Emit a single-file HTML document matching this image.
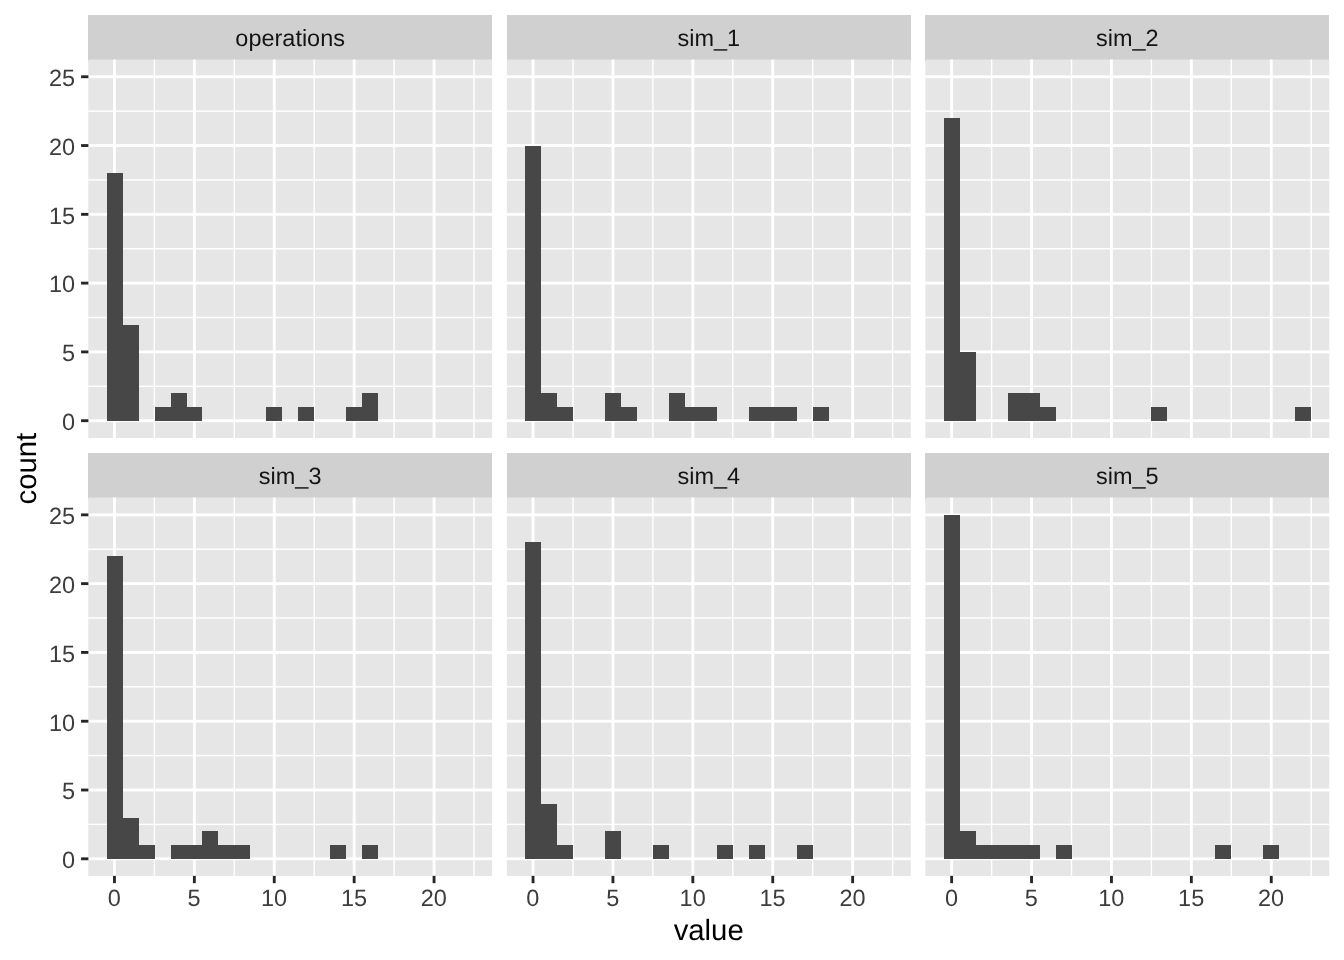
<!DOCTYPE html>
<html><head><meta charset="utf-8"><title>plot</title>
<style>
html,body{margin:0;padding:0;background:#fff;}
body{width:1344px;height:960px;overflow:hidden;}
svg{display:block;will-change:transform;}
text{font-family:"Liberation Sans",sans-serif;text-rendering:geometricPrecision;}
</style></head><body>
<svg width="1344" height="960" viewBox="0 0 1344 960">
<defs><filter id="usm" x="0" y="0" width="1344" height="960" filterUnits="userSpaceOnUse" color-interpolation-filters="sRGB"><feGaussianBlur in="SourceGraphic" stdDeviation="0.7" result="b"/><feComposite in="SourceGraphic" in2="b" operator="arithmetic" k1="0" k2="1.6" k3="-0.6" k4="0"/></filter></defs>
<g filter="url(#usm)">
<rect x="0" y="0" width="1344" height="960" fill="#FFFFFF"/>
<!-- panel operations -->
<rect x="88" y="15" width="404" height="46.55" fill="#D0D0D0"/>
<rect x="88.3" y="59.55" width="403.8" height="378.42" fill="#E6E6E6"/>
<g fill="#fff">
<rect x="153.69" y="59.55" width="1.42" height="378.42" fill="#fff"/>
<rect x="88.3" y="385.6" width="403.8" height="1.42" fill="#fff"/>
<rect x="233.59" y="59.55" width="1.42" height="378.42" fill="#fff"/>
<rect x="88.3" y="316.81" width="403.8" height="1.42" fill="#fff"/>
<rect x="313.49" y="59.55" width="1.42" height="378.42" fill="#fff"/>
<rect x="88.3" y="248.01" width="403.8" height="1.42" fill="#fff"/>
<rect x="393.39" y="59.55" width="1.42" height="378.42" fill="#fff"/>
<rect x="88.3" y="179.22" width="403.8" height="1.42" fill="#fff"/>
<rect x="473.29" y="59.55" width="1.42" height="378.42" fill="#fff"/>
<rect x="88.3" y="110.43" width="403.8" height="1.42" fill="#fff"/>
<rect x="113.03" y="59.55" width="2.85" height="378.42" fill="#fff"/>
<rect x="192.93" y="59.55" width="2.85" height="378.42" fill="#fff"/>
<rect x="272.82" y="59.55" width="2.85" height="378.42" fill="#fff"/>
<rect x="352.73" y="59.55" width="2.85" height="378.42" fill="#fff"/>
<rect x="432.62" y="59.55" width="2.85" height="378.42" fill="#fff"/>
<rect x="88.3" y="419.27" width="403.8" height="2.85" fill="#fff"/>
<rect x="88.3" y="350.48" width="403.8" height="2.85" fill="#fff"/>
<rect x="88.3" y="281.69" width="403.8" height="2.85" fill="#fff"/>
<rect x="88.3" y="212.91" width="403.8" height="2.85" fill="#fff"/>
<rect x="88.3" y="144.12" width="403.8" height="2.85" fill="#fff"/>
<rect x="88.3" y="75.33" width="403.8" height="2.85" fill="#fff"/>
</g>
<path d="M107 421V173H123V325H139V421ZM155 421V407H171V393H187V407H202V421ZM266 421V407H282V421ZM298 421V407H314V421ZM346 421V407H362V393H378V421Z" fill="#474747"/>
<text x="290.17" y="45.5" font-size="23.47" fill="#141414" text-anchor="middle">operations</text>
<rect x="81.07" y="419.27" width="7.33" height="2.85" fill="#262626"/>
<text x="75" y="430" font-size="23.47" fill="#3C3C3C" text-anchor="end">0</text>
<rect x="81.07" y="350.48" width="7.33" height="2.85" fill="#262626"/>
<text x="75" y="361.21" font-size="23.47" fill="#3C3C3C" text-anchor="end">5</text>
<rect x="81.07" y="281.69" width="7.33" height="2.85" fill="#262626"/>
<text x="75" y="292.42" font-size="23.47" fill="#3C3C3C" text-anchor="end">10</text>
<rect x="81.07" y="212.91" width="7.33" height="2.85" fill="#262626"/>
<text x="75" y="223.63" font-size="23.47" fill="#3C3C3C" text-anchor="end">15</text>
<rect x="81.07" y="144.12" width="7.33" height="2.85" fill="#262626"/>
<text x="75" y="154.84" font-size="23.47" fill="#3C3C3C" text-anchor="end">20</text>
<rect x="81.07" y="75.33" width="7.33" height="2.85" fill="#262626"/>
<text x="75" y="86.05" font-size="23.47" fill="#3C3C3C" text-anchor="end">25</text>
<!-- panel sim_1 -->
<rect x="507" y="15" width="404" height="46.55" fill="#D0D0D0"/>
<rect x="506.85" y="59.55" width="403.9" height="378.42" fill="#E6E6E6"/>
<g fill="#fff">
<rect x="572.29" y="59.55" width="1.42" height="378.42" fill="#fff"/>
<rect x="506.85" y="385.6" width="403.9" height="1.42" fill="#fff"/>
<rect x="652.19" y="59.55" width="1.42" height="378.42" fill="#fff"/>
<rect x="506.85" y="316.81" width="403.9" height="1.42" fill="#fff"/>
<rect x="732.09" y="59.55" width="1.42" height="378.42" fill="#fff"/>
<rect x="506.85" y="248.01" width="403.9" height="1.42" fill="#fff"/>
<rect x="811.99" y="59.55" width="1.42" height="378.42" fill="#fff"/>
<rect x="506.85" y="179.22" width="403.9" height="1.42" fill="#fff"/>
<rect x="891.89" y="59.55" width="1.42" height="378.42" fill="#fff"/>
<rect x="506.85" y="110.43" width="403.9" height="1.42" fill="#fff"/>
<rect x="531.62" y="59.55" width="2.85" height="378.42" fill="#fff"/>
<rect x="611.52" y="59.55" width="2.85" height="378.42" fill="#fff"/>
<rect x="691.42" y="59.55" width="2.85" height="378.42" fill="#fff"/>
<rect x="771.33" y="59.55" width="2.85" height="378.42" fill="#fff"/>
<rect x="851.23" y="59.55" width="2.85" height="378.42" fill="#fff"/>
<rect x="506.85" y="419.27" width="403.9" height="2.85" fill="#fff"/>
<rect x="506.85" y="350.48" width="403.9" height="2.85" fill="#fff"/>
<rect x="506.85" y="281.69" width="403.9" height="2.85" fill="#fff"/>
<rect x="506.85" y="212.91" width="403.9" height="2.85" fill="#fff"/>
<rect x="506.85" y="144.12" width="403.9" height="2.85" fill="#fff"/>
<rect x="506.85" y="75.33" width="403.9" height="2.85" fill="#fff"/>
</g>
<path d="M525 421V146H541V393H557V407H573V421ZM605 421V393H621V407H637V421ZM669 421V393H685V407H701V407H717V421ZM749 421V407H765V407H781V407H797V421ZM813 421V407H829V421Z" fill="#474747"/>
<text x="708.76" y="45.5" font-size="23.47" fill="#141414" text-anchor="middle">sim_1</text>
<!-- panel sim_2 -->
<rect x="925" y="15" width="404" height="46.55" fill="#D0D0D0"/>
<rect x="925.4" y="59.55" width="403.9" height="378.42" fill="#E6E6E6"/>
<g fill="#fff">
<rect x="990.89" y="59.55" width="1.42" height="378.42" fill="#fff"/>
<rect x="925.4" y="385.6" width="403.9" height="1.42" fill="#fff"/>
<rect x="1070.79" y="59.55" width="1.42" height="378.42" fill="#fff"/>
<rect x="925.4" y="316.81" width="403.9" height="1.42" fill="#fff"/>
<rect x="1150.69" y="59.55" width="1.42" height="378.42" fill="#fff"/>
<rect x="925.4" y="248.01" width="403.9" height="1.42" fill="#fff"/>
<rect x="1230.59" y="59.55" width="1.42" height="378.42" fill="#fff"/>
<rect x="925.4" y="179.22" width="403.9" height="1.42" fill="#fff"/>
<rect x="1310.49" y="59.55" width="1.42" height="378.42" fill="#fff"/>
<rect x="925.4" y="110.43" width="403.9" height="1.42" fill="#fff"/>
<rect x="950.23" y="59.55" width="2.85" height="378.42" fill="#fff"/>
<rect x="1030.12" y="59.55" width="2.85" height="378.42" fill="#fff"/>
<rect x="1110.03" y="59.55" width="2.85" height="378.42" fill="#fff"/>
<rect x="1189.92" y="59.55" width="2.85" height="378.42" fill="#fff"/>
<rect x="1269.83" y="59.55" width="2.85" height="378.42" fill="#fff"/>
<rect x="925.4" y="419.27" width="403.9" height="2.85" fill="#fff"/>
<rect x="925.4" y="350.48" width="403.9" height="2.85" fill="#fff"/>
<rect x="925.4" y="281.69" width="403.9" height="2.85" fill="#fff"/>
<rect x="925.4" y="212.91" width="403.9" height="2.85" fill="#fff"/>
<rect x="925.4" y="144.12" width="403.9" height="2.85" fill="#fff"/>
<rect x="925.4" y="75.33" width="403.9" height="2.85" fill="#fff"/>
</g>
<path d="M944 421V118H960V352H976V421ZM1008 421V393H1024V393H1040V407H1056V421ZM1151 421V407H1167V421ZM1295 421V407H1311V421Z" fill="#474747"/>
<text x="1127.37" y="45.5" font-size="23.47" fill="#141414" text-anchor="middle">sim_2</text>
<!-- panel sim_3 -->
<rect x="88" y="453" width="404" height="46.52" fill="#D0D0D0"/>
<rect x="88.3" y="497.52" width="403.8" height="378.42" fill="#E6E6E6"/>
<g fill="#fff">
<rect x="153.69" y="497.52" width="1.42" height="378.42" fill="#fff"/>
<rect x="88.3" y="823.69" width="403.8" height="1.42" fill="#fff"/>
<rect x="233.59" y="497.52" width="1.42" height="378.42" fill="#fff"/>
<rect x="88.3" y="754.9" width="403.8" height="1.42" fill="#fff"/>
<rect x="313.49" y="497.52" width="1.42" height="378.42" fill="#fff"/>
<rect x="88.3" y="686.11" width="403.8" height="1.42" fill="#fff"/>
<rect x="393.39" y="497.52" width="1.42" height="378.42" fill="#fff"/>
<rect x="88.3" y="617.32" width="403.8" height="1.42" fill="#fff"/>
<rect x="473.29" y="497.52" width="1.42" height="378.42" fill="#fff"/>
<rect x="88.3" y="548.53" width="403.8" height="1.42" fill="#fff"/>
<rect x="113.03" y="497.52" width="2.85" height="378.42" fill="#fff"/>
<rect x="192.93" y="497.52" width="2.85" height="378.42" fill="#fff"/>
<rect x="272.82" y="497.52" width="2.85" height="378.42" fill="#fff"/>
<rect x="352.73" y="497.52" width="2.85" height="378.42" fill="#fff"/>
<rect x="432.62" y="497.52" width="2.85" height="378.42" fill="#fff"/>
<rect x="88.3" y="857.38" width="403.8" height="2.85" fill="#fff"/>
<rect x="88.3" y="788.59" width="403.8" height="2.85" fill="#fff"/>
<rect x="88.3" y="719.8" width="403.8" height="2.85" fill="#fff"/>
<rect x="88.3" y="651" width="403.8" height="2.85" fill="#fff"/>
<rect x="88.3" y="582.22" width="403.8" height="2.85" fill="#fff"/>
<rect x="88.3" y="513.42" width="403.8" height="2.85" fill="#fff"/>
</g>
<path d="M107 859V556H123V818H139V845H155V859ZM171 859V845H187V845H202V831H218V845H234V845H250V859ZM330 859V845H346V859ZM362 859V845H378V859Z" fill="#474747"/>
<text x="290.17" y="483.5" font-size="23.47" fill="#141414" text-anchor="middle">sim_3</text>
<rect x="81.07" y="857.38" width="7.33" height="2.85" fill="#262626"/>
<text x="75" y="868.1" font-size="23.47" fill="#3C3C3C" text-anchor="end">0</text>
<rect x="81.07" y="788.59" width="7.33" height="2.85" fill="#262626"/>
<text x="75" y="799.31" font-size="23.47" fill="#3C3C3C" text-anchor="end">5</text>
<rect x="81.07" y="719.8" width="7.33" height="2.85" fill="#262626"/>
<text x="75" y="730.52" font-size="23.47" fill="#3C3C3C" text-anchor="end">10</text>
<rect x="81.07" y="651" width="7.33" height="2.85" fill="#262626"/>
<text x="75" y="661.73" font-size="23.47" fill="#3C3C3C" text-anchor="end">15</text>
<rect x="81.07" y="582.22" width="7.33" height="2.85" fill="#262626"/>
<text x="75" y="592.94" font-size="23.47" fill="#3C3C3C" text-anchor="end">20</text>
<rect x="81.07" y="513.42" width="7.33" height="2.85" fill="#262626"/>
<text x="75" y="524.15" font-size="23.47" fill="#3C3C3C" text-anchor="end">25</text>
<rect x="113.03" y="875.84" width="2.85" height="7.33" fill="#262626"/>
<text x="114.25" y="905.75" font-size="23.47" fill="#3C3C3C" text-anchor="middle">0</text>
<rect x="192.93" y="875.84" width="2.85" height="7.33" fill="#262626"/>
<text x="194.15" y="905.75" font-size="23.47" fill="#3C3C3C" text-anchor="middle">5</text>
<rect x="272.82" y="875.84" width="2.85" height="7.33" fill="#262626"/>
<text x="274.05" y="905.75" font-size="23.47" fill="#3C3C3C" text-anchor="middle">10</text>
<rect x="352.73" y="875.84" width="2.85" height="7.33" fill="#262626"/>
<text x="353.95" y="905.75" font-size="23.47" fill="#3C3C3C" text-anchor="middle">15</text>
<rect x="432.62" y="875.84" width="2.85" height="7.33" fill="#262626"/>
<text x="433.85" y="905.75" font-size="23.47" fill="#3C3C3C" text-anchor="middle">20</text>
<!-- panel sim_4 -->
<rect x="507" y="453" width="404" height="46.52" fill="#D0D0D0"/>
<rect x="506.85" y="497.52" width="403.9" height="378.42" fill="#E6E6E6"/>
<g fill="#fff">
<rect x="572.29" y="497.52" width="1.42" height="378.42" fill="#fff"/>
<rect x="506.85" y="823.69" width="403.9" height="1.42" fill="#fff"/>
<rect x="652.19" y="497.52" width="1.42" height="378.42" fill="#fff"/>
<rect x="506.85" y="754.9" width="403.9" height="1.42" fill="#fff"/>
<rect x="732.09" y="497.52" width="1.42" height="378.42" fill="#fff"/>
<rect x="506.85" y="686.11" width="403.9" height="1.42" fill="#fff"/>
<rect x="811.99" y="497.52" width="1.42" height="378.42" fill="#fff"/>
<rect x="506.85" y="617.32" width="403.9" height="1.42" fill="#fff"/>
<rect x="891.89" y="497.52" width="1.42" height="378.42" fill="#fff"/>
<rect x="506.85" y="548.53" width="403.9" height="1.42" fill="#fff"/>
<rect x="531.62" y="497.52" width="2.85" height="378.42" fill="#fff"/>
<rect x="611.52" y="497.52" width="2.85" height="378.42" fill="#fff"/>
<rect x="691.42" y="497.52" width="2.85" height="378.42" fill="#fff"/>
<rect x="771.33" y="497.52" width="2.85" height="378.42" fill="#fff"/>
<rect x="851.23" y="497.52" width="2.85" height="378.42" fill="#fff"/>
<rect x="506.85" y="857.38" width="403.9" height="2.85" fill="#fff"/>
<rect x="506.85" y="788.59" width="403.9" height="2.85" fill="#fff"/>
<rect x="506.85" y="719.8" width="403.9" height="2.85" fill="#fff"/>
<rect x="506.85" y="651" width="403.9" height="2.85" fill="#fff"/>
<rect x="506.85" y="582.22" width="403.9" height="2.85" fill="#fff"/>
<rect x="506.85" y="513.42" width="403.9" height="2.85" fill="#fff"/>
</g>
<path d="M525 859V542H541V804H557V845H573V859ZM605 859V831H621V859ZM653 859V845H669V859ZM717 859V845H733V859ZM749 859V845H765V859ZM797 859V845H813V859Z" fill="#474747"/>
<text x="708.76" y="483.5" font-size="23.47" fill="#141414" text-anchor="middle">sim_4</text>
<rect x="531.62" y="875.84" width="2.85" height="7.33" fill="#262626"/>
<text x="532.85" y="905.75" font-size="23.47" fill="#3C3C3C" text-anchor="middle">0</text>
<rect x="611.52" y="875.84" width="2.85" height="7.33" fill="#262626"/>
<text x="612.75" y="905.75" font-size="23.47" fill="#3C3C3C" text-anchor="middle">5</text>
<rect x="691.42" y="875.84" width="2.85" height="7.33" fill="#262626"/>
<text x="692.65" y="905.75" font-size="23.47" fill="#3C3C3C" text-anchor="middle">10</text>
<rect x="771.33" y="875.84" width="2.85" height="7.33" fill="#262626"/>
<text x="772.55" y="905.75" font-size="23.47" fill="#3C3C3C" text-anchor="middle">15</text>
<rect x="851.23" y="875.84" width="2.85" height="7.33" fill="#262626"/>
<text x="852.45" y="905.75" font-size="23.47" fill="#3C3C3C" text-anchor="middle">20</text>
<!-- panel sim_5 -->
<rect x="925" y="453" width="404" height="46.52" fill="#D0D0D0"/>
<rect x="925.4" y="497.52" width="403.9" height="378.42" fill="#E6E6E6"/>
<g fill="#fff">
<rect x="990.89" y="497.52" width="1.42" height="378.42" fill="#fff"/>
<rect x="925.4" y="823.69" width="403.9" height="1.42" fill="#fff"/>
<rect x="1070.79" y="497.52" width="1.42" height="378.42" fill="#fff"/>
<rect x="925.4" y="754.9" width="403.9" height="1.42" fill="#fff"/>
<rect x="1150.69" y="497.52" width="1.42" height="378.42" fill="#fff"/>
<rect x="925.4" y="686.11" width="403.9" height="1.42" fill="#fff"/>
<rect x="1230.59" y="497.52" width="1.42" height="378.42" fill="#fff"/>
<rect x="925.4" y="617.32" width="403.9" height="1.42" fill="#fff"/>
<rect x="1310.49" y="497.52" width="1.42" height="378.42" fill="#fff"/>
<rect x="925.4" y="548.53" width="403.9" height="1.42" fill="#fff"/>
<rect x="950.23" y="497.52" width="2.85" height="378.42" fill="#fff"/>
<rect x="1030.12" y="497.52" width="2.85" height="378.42" fill="#fff"/>
<rect x="1110.03" y="497.52" width="2.85" height="378.42" fill="#fff"/>
<rect x="1189.92" y="497.52" width="2.85" height="378.42" fill="#fff"/>
<rect x="1269.83" y="497.52" width="2.85" height="378.42" fill="#fff"/>
<rect x="925.4" y="857.38" width="403.9" height="2.85" fill="#fff"/>
<rect x="925.4" y="788.59" width="403.9" height="2.85" fill="#fff"/>
<rect x="925.4" y="719.8" width="403.9" height="2.85" fill="#fff"/>
<rect x="925.4" y="651" width="403.9" height="2.85" fill="#fff"/>
<rect x="925.4" y="582.22" width="403.9" height="2.85" fill="#fff"/>
<rect x="925.4" y="513.42" width="403.9" height="2.85" fill="#fff"/>
</g>
<path d="M944 859V515H960V831H976V845H992V845H1008V845H1024V845H1040V859ZM1056 859V845H1072V859ZM1215 859V845H1231V859ZM1263 859V845H1279V859Z" fill="#474747"/>
<text x="1127.37" y="483.5" font-size="23.47" fill="#141414" text-anchor="middle">sim_5</text>
<rect x="950.23" y="875.84" width="2.85" height="7.33" fill="#262626"/>
<text x="951.45" y="905.75" font-size="23.47" fill="#3C3C3C" text-anchor="middle">0</text>
<rect x="1030.12" y="875.84" width="2.85" height="7.33" fill="#262626"/>
<text x="1031.35" y="905.75" font-size="23.47" fill="#3C3C3C" text-anchor="middle">5</text>
<rect x="1110.03" y="875.84" width="2.85" height="7.33" fill="#262626"/>
<text x="1111.25" y="905.75" font-size="23.47" fill="#3C3C3C" text-anchor="middle">10</text>
<rect x="1189.92" y="875.84" width="2.85" height="7.33" fill="#262626"/>
<text x="1191.15" y="905.75" font-size="23.47" fill="#3C3C3C" text-anchor="middle">15</text>
<rect x="1269.83" y="875.84" width="2.85" height="7.33" fill="#262626"/>
<text x="1271.05" y="905.75" font-size="23.47" fill="#3C3C3C" text-anchor="middle">20</text>
<text x="708.7" y="939.8" font-size="29.33" fill="#000" text-anchor="middle">value</text>
<text transform="translate(36.25,468.6) rotate(-90)" font-size="29.33" fill="#000" text-anchor="middle">count</text>
</g>
</svg>
</body></html>
